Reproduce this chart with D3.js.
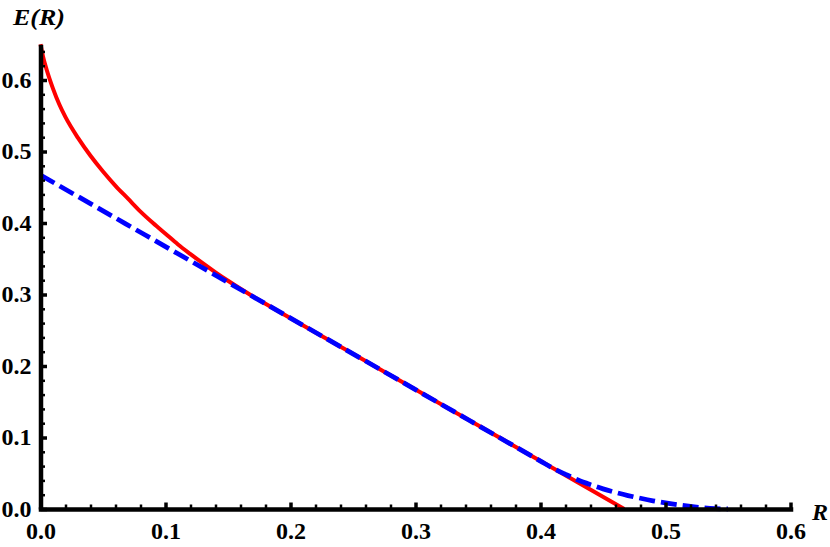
<!DOCTYPE html>
<html>
<head>
<meta charset="utf-8">
<script src="https://cdn.jsdelivr.net/npm/d3@7"></script>
<style>
  html, body { margin: 0; padding: 0; background: #fff; }
  svg { display: block; }
</style>
</head>
<body>
<svg id="chart" width="830" height="547"></svg>
<script>
// ---- data ----
const xTicks = [0, 0.1, 0.2, 0.3, 0.4, 0.5, 0.6];
const yTicks = [0, 0.1, 0.2, 0.3, 0.4, 0.5, 0.6];
const xTickLabels = ["0.0", "0.1", "0.2", "0.3", "0.4", "0.5", "0.6"];
const yTickLabels = ["0.0", "0.1", "0.2", "0.3", "0.4", "0.5", "0.6"];

// red solid curve: R values and E values
const redR = [0, 0.002, 0.005, 0.010, 0.015, 0.020, 0.030, 0.040, 0.050, 0.060, 0.070, 0.080, 0.090, 0.100, 0.110, 0.120, 0.130, 0.140, 0.150, 0.160, 0.170, 0.180, 0.250, 0.300, 0.350, 0.400, 0.467];
const redE = [0.650, 0.633, 0.614, 0.588, 0.566, 0.548, 0.519, 0.494, 0.472, 0.452, 0.434, 0.416, 0.400, 0.385, 0.370, 0.3565, 0.3435, 0.331, 0.3192, 0.308, 0.2973, 0.287, 0.217, 0.167, 0.117, 0.067, 0.000];

// blue dashed curve
const blueR = [0, 0.100, 0.200, 0.300, 0.400, 0.410, 0.420, 0.430, 0.440, 0.450, 0.460, 0.470, 0.480, 0.490, 0.500, 0.510, 0.520, 0.530, 0.540, 0.550];
const blueE = [0.467, 0.367, 0.267, 0.167, 0.067, 0.057, 0.0485, 0.0405, 0.0340, 0.0282, 0.0232, 0.0188, 0.0150, 0.0115, 0.0085, 0.0058, 0.0036, 0.0018, 0.0006, 0.0000];

const xLabel = "R";
const yLabel = "E(R)";

// ---- drawing ----
const FONT = '"Liberation Serif", "Times New Roman", "DejaVu Serif", serif';
const svg = d3.select("#chart");
const x = d3.scaleLinear().domain([0, 0.6]).range([40.5, 790.5]);
const y = d3.scaleLinear().domain([0, 0.6]).range([509, 80]);
const yAxisScale = y.copy().domain([0, 0.65]).range([y(0), y(0.65)]);

const minorX = d3.range(0, 0.6001, 0.02).filter(v => Math.abs(Math.round(v * 10) - v * 10) > 1e-6);
const minorY = d3.range(0, 0.6401, 0.02).filter(v => Math.abs(Math.round(v * 10) - v * 10) > 1e-6);

// curves
const redData = redR.map((r, i) => [r, redE[i]]);
const blueData = blueR.map((r, i) => [r, blueE[i]]);
const line = d3.line().x(d => x(d[0])).y(d => y(d[1])).curve(d3.curveMonotoneX);

svg.append("path").datum(redData)
  .attr("d", line).attr("fill", "none")
  .attr("stroke", "#ff0000").attr("stroke-width", 4);

svg.append("path").datum(blueData)
  .attr("d", line).attr("fill", "none")
  .attr("stroke", "#0000ff").attr("stroke-width", 4.8)
  .attr("stroke-dasharray", "16,6");

// minor ticks
const gxm = svg.append("g").attr("transform", `translate(0,${y(0)})`)
  .call(d3.axisBottom(x).tickValues(minorX).tickSizeInner(-4.5).tickSizeOuter(0).tickFormat(""));
gxm.select(".domain").remove();
gxm.selectAll("line").attr("stroke", "#000").attr("stroke-width", 2.5);

const gym = svg.append("g").attr("transform", `translate(${x(0)},0)`)
  .call(d3.axisLeft(yAxisScale).tickValues(minorY).tickSizeInner(-4.5).tickSizeOuter(0).tickFormat(""));
gym.select(".domain").remove();
gym.selectAll("line").attr("stroke", "#000").attr("stroke-width", 2.5);

// major axes
const gx = svg.append("g").attr("transform", `translate(0,${y(0)})`)
  .call(d3.axisBottom(x).tickValues(xTicks).tickSizeInner(-6.5).tickSizeOuter(0).tickPadding(14)
    .tickFormat((d, i) => xTickLabels[i]));
gx.select(".domain").attr("stroke", "#000").attr("stroke-width", 4.5).attr("stroke-linecap", "square");
gx.selectAll(".tick line").attr("stroke", "#000").attr("stroke-width", 3.5);
gx.selectAll(".tick text").style("font-family", FONT).style("font-weight", "bold")
  .style("font-size", "23px").attr("fill", "#000")
  .attr("textLength", 30).attr("lengthAdjust", "spacingAndGlyphs");

const gy = svg.append("g").attr("transform", `translate(${x(0)},0)`)
  .call(d3.axisLeft(yAxisScale).tickValues(yTicks).tickSizeInner(-6.5).tickSizeOuter(0).tickPadding(9)
    .tickFormat((d, i) => yTickLabels[i]));
gy.select(".domain").attr("stroke", "#000").attr("stroke-width", 4.5);
gy.selectAll(".tick line").attr("stroke", "#000").attr("stroke-width", 3.5);
gy.selectAll(".tick text").style("font-family", FONT).style("font-weight", "bold")
  .style("font-size", "23px").attr("fill", "#000")
  .attr("textLength", 30).attr("lengthAdjust", "spacingAndGlyphs");

// axis labels
svg.append("text").attr("x", 13).attr("y", 25)
  .style("font-family", FONT).style("font-weight", "bold").style("font-style", "italic")
  .style("font-size", "24px").attr("fill", "#000")
  .attr("textLength", 52).attr("lengthAdjust", "spacingAndGlyphs")
  .text(yLabel);
svg.append("text").attr("x", 812).attr("y", 520)
  .style("font-family", FONT).style("font-weight", "bold").style("font-style", "italic")
  .style("font-size", "24px").attr("fill", "#000")
  .text(xLabel);
</script>
</body>
</html>
